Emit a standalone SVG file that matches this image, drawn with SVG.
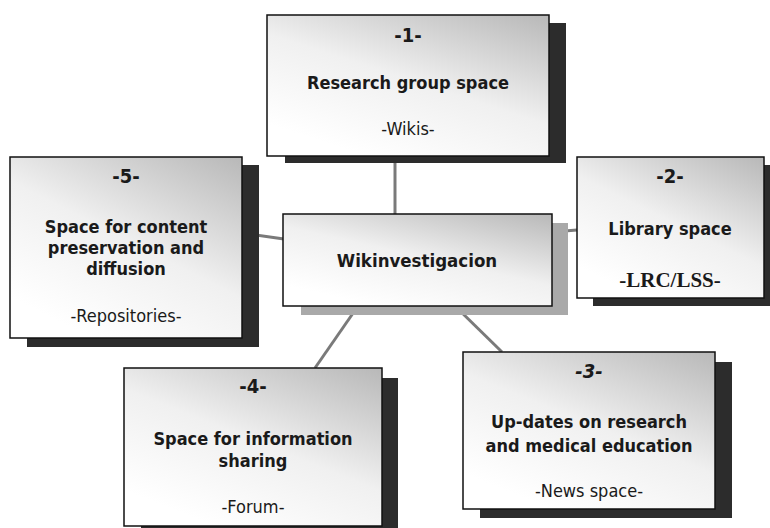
<svg xmlns="http://www.w3.org/2000/svg" width="770" height="528" viewBox="0 0 770 528">
<defs>
<linearGradient id="g" x1="1" y1="0" x2="0.35" y2="1">
<stop offset="0" stop-color="#b8b8b8"/>
<stop offset="0.55" stop-color="#f0f0f0"/>
<stop offset="1" stop-color="#ffffff"/>
</linearGradient>
<style>
.box{fill:url(#g);stroke:#111;stroke-width:1.5}
.sh{fill:#2c2c2c}
.shl{fill:#a9a9a9}
.t{font-family:"DejaVu Sans Condensed","DejaVu Sans",Verdana,sans-serif;font-stretch:condensed;font-weight:bold;font-size:18px;fill:#1a1a1a;text-anchor:middle}
.n{font-size:20px}
.s{font-weight:normal;font-size:18px}
.lrc{font-family:"Liberation Serif","Times New Roman",serif;font-weight:bold;font-size:21px;fill:#1a1a1a;text-anchor:middle}
.c{stroke:#7a7a7a;stroke-width:3;fill:none}
</style>
</defs>
<rect width="770" height="528" fill="#fff"/>
<g id="connectors">
<line class="c" x1="395" y1="156" x2="395" y2="214"/>
<line class="c" x1="242" y1="233" x2="284" y2="239"/>
<line class="c" x1="552" y1="232" x2="577" y2="230"/>
<line class="c" x1="358" y1="306" x2="315" y2="368"/>
<line class="c" x1="455" y1="306" x2="502" y2="352"/>
</g>
<g id="node1">
<rect class="sh" x="285" y="23" width="281" height="140"/>
<rect class="box" x="267" y="15" width="282" height="141"/>
<text class="t n" x="408" y="42">-1-</text>
<text class="t" x="408" y="89">Research group space</text>
<text class="t s" x="408" y="135">-Wikis-</text>
</g>
<g id="node5">
<rect class="sh" x="27" y="165" width="232" height="182"/>
<rect class="box" x="10" y="157" width="232" height="181"/>
<text class="t n" x="126" y="183">-5-</text>
<text class="t" x="126" y="233">Space for content</text>
<text class="t" x="126" y="254">preservation and</text>
<text class="t" x="126" y="275">diffusion</text>
<text class="t s" x="126" y="322">-Repositories-</text>
</g>
<g id="center">
<rect class="shl" x="301" y="223" width="267" height="92"/>
<rect class="box" x="283" y="214" width="269" height="92"/>
<text class="t" x="417" y="267" style="font-size:18.5px">Wikinvestigacion</text>
</g>
<g id="node2">
<rect class="sh" x="593" y="165" width="180" height="141"/>
<rect class="box" x="577" y="157" width="187" height="141"/>
<text class="t n" x="670" y="183">-2-</text>
<text class="t" x="670" y="235">Library space</text>
<text class="lrc" x="670" y="287">-LRC/LSS-</text>
</g>
<g id="node4">
<rect class="sh" x="141" y="378" width="257" height="160"/>
<rect class="box" x="124" y="368" width="258" height="158"/>
<text class="t n" x="253" y="393">-4-</text>
<text class="t" x="253" y="445">Space for information</text>
<text class="t" x="253" y="467">sharing</text>
<text class="t s" x="253" y="513">-Forum-</text>
</g>
<g id="node3">
<rect class="sh" x="480" y="362" width="252" height="156"/>
<rect class="box" x="463" y="352" width="252" height="157"/>
<text class="t n" x="589" y="378" style="font-style:italic">-3-</text>
<text class="t" x="589" y="428">Up-dates on research</text>
<text class="t" x="589" y="452">and medical education</text>
<text class="t s" x="589" y="497">-News space-</text>
</g>
</svg>
